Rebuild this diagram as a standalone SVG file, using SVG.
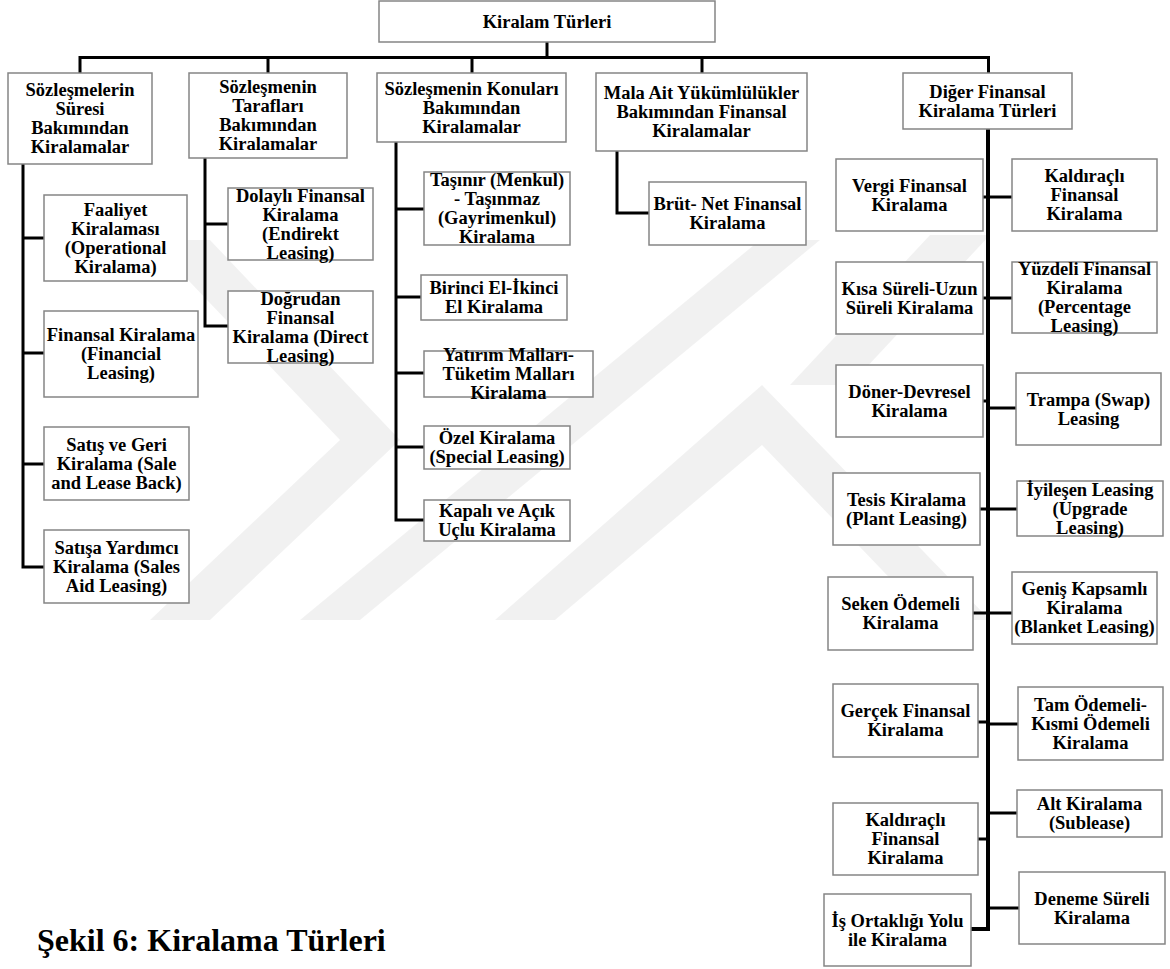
<svg xmlns="http://www.w3.org/2000/svg" width="1170" height="969" viewBox="0 0 1170 969">
  <style>
    .box { fill: #ffffff; stroke: #858585; stroke-width: 1.5; }
    .t { font-family: "Liberation Serif", "Times New Roman", serif; font-weight: bold; font-size: 18.5px; text-anchor: middle; fill: #000000; }
    .cap { font-family: "Liberation Serif", "Times New Roman", serif; font-weight: bold; font-size: 32px; fill: #000000; }
    .c { fill: none; stroke: #000000; stroke-width: 3; stroke-linejoin: miter; }
    .trunk { fill: none; stroke: #000000; stroke-width: 4; }
    .wm { fill: #000000; fill-opacity: 0.055; }
  </style>

  <rect width="1170" height="969" fill="#ffffff"/>

  <!-- faint background emblem -->
  <g id="emblem">
    <polygon class="wm" points="150,240 210,240 400,440 210,620 150,620 340,440"/>
    <polygon class="wm" points="300,620 360,620 820,240 760,240"/>
    <polygon class="wm" points="495,620 555,620 762,445 930,620 990,620 762,385"/>
    <polygon class="wm" points="790,385 850,385 990,235 930,235"/>
  </g>

  <!-- connectors -->
  <g id="connectors">
    <line class="c" x1="547" y1="42" x2="547" y2="57.5"/>
    <path class="c" d="M80,73 V57.5 H988.5 V73"/>
    <line class="c" x1="268" y1="57.5" x2="268" y2="73"/>
    <line class="c" x1="472" y1="57.5" x2="472" y2="73"/>
    <line class="c" x1="702" y1="57.5" x2="702" y2="73"/>

    <!-- Sözleşmelerin Süresi -->
    <path class="c" d="M23,164 V567 H44"/>
    <line class="c" x1="23" y1="238" x2="44" y2="238"/>
    <line class="c" x1="23" y1="353" x2="44" y2="353"/>
    <line class="c" x1="23" y1="464" x2="44" y2="464"/>

    <!-- Sözleşmenin Tarafları -->
    <path class="c" d="M205,158 V326 H228"/>
    <line class="c" x1="205" y1="224" x2="228" y2="224"/>

    <!-- Sözleşmenin Konuları -->
    <path class="c" d="M396,142 V520 H424"/>
    <line class="c" x1="396" y1="209" x2="424" y2="209"/>
    <line class="c" x1="396" y1="297" x2="421" y2="297"/>
    <line class="c" x1="396" y1="373" x2="424" y2="373"/>
    <line class="c" x1="396" y1="447" x2="424" y2="447"/>

    <!-- Mala Ait Yükümlülükler -->
    <path class="c" d="M617,151 V213 H649"/>

    <!-- Diğer Finansal Kiralama Türleri -->
    <path class="trunk" d="M988,129 V929 H971"/>
    <line class="c" x1="983" y1="197" x2="1012" y2="197"/>
    <line class="c" x1="983" y1="298" x2="1012" y2="298"/>
    <line class="c" x1="983" y1="401" x2="988" y2="401"/>
    <line class="c" x1="988" y1="408" x2="1016" y2="408"/>
    <line class="c" x1="980" y1="509" x2="1017" y2="509"/>
    <line class="c" x1="973" y1="613" x2="1012" y2="613"/>
    <line class="c" x1="978" y1="722" x2="988" y2="722"/>
    <line class="c" x1="988" y1="724" x2="1018" y2="724"/>
    <line class="c" x1="988" y1="813" x2="1017" y2="813"/>
    <line class="c" x1="978" y1="839" x2="988" y2="839"/>
    <line class="c" x1="988" y1="908" x2="1019" y2="908"/>
  </g>

  <!-- root -->
  <g id="root">
    <rect class="box" x="379" y="1" width="336" height="41"/>
    <text class="t" x="547" y="27.5">Kiralam Türleri</text>
  </g>

  <!-- first level -->
  <g id="sure">
    <rect class="box" x="8" y="73" width="144" height="91"/>
    <text class="t" x="80" y="96">Sözleşmelerin</text>
    <text class="t" x="80" y="115">Süresi</text>
    <text class="t" x="80" y="134">Bakımından</text>
    <text class="t" x="80" y="153">Kiralamalar</text>
  </g>
  <g id="taraflar">
    <rect class="box" x="189" y="73" width="158" height="85"/>
    <text class="t" x="268" y="93">Sözleşmenin</text>
    <text class="t" x="268" y="112">Tarafları</text>
    <text class="t" x="268" y="131">Bakımından</text>
    <text class="t" x="268" y="150">Kiralamalar</text>
  </g>
  <g id="konular">
    <rect class="box" x="377" y="73" width="189" height="69"/>
    <text class="t" x="471.5" y="94.5">Sözleşmenin Konuları</text>
    <text class="t" x="471.5" y="113.5">Bakımından</text>
    <text class="t" x="471.5" y="132.5">Kiralamalar</text>
  </g>
  <g id="yukumluluk">
    <rect class="box" x="596" y="73" width="211" height="78"/>
    <text class="t" x="701.5" y="99">Mala Ait Yükümlülükler</text>
    <text class="t" x="701.5" y="118">Bakımından Finansal</text>
    <text class="t" x="701.5" y="137">Kiralamalar</text>
  </g>
  <g id="diger">
    <rect class="box" x="903" y="73" width="169" height="56"/>
    <text class="t" x="987.5" y="97.5">Diğer Finansal</text>
    <text class="t" x="987.5" y="116.5">Kiralama Türleri</text>
  </g>

  <!-- Sözleşmelerin Süresi children -->
  <g id="faaliyet">
    <rect class="box" x="44" y="195" width="143" height="86"/>
    <text class="t" x="115.5" y="215.5">Faaliyet</text>
    <text class="t" x="115.5" y="234.5">Kiralaması</text>
    <text class="t" x="115.5" y="253.5">(Operational</text>
    <text class="t" x="115.5" y="272.5">Kiralama)</text>
  </g>
  <g id="finansal">
    <rect class="box" x="44" y="311" width="154" height="86"/>
    <text class="t" x="121" y="341">Finansal Kiralama</text>
    <text class="t" x="121" y="360">(Financial</text>
    <text class="t" x="121" y="379">Leasing)</text>
  </g>
  <g id="satis-geri">
    <rect class="box" x="44" y="427" width="145" height="73"/>
    <text class="t" x="116.5" y="450.5">Satış ve Geri</text>
    <text class="t" x="116.5" y="469.5">Kiralama (Sale</text>
    <text class="t" x="116.5" y="488.5">and Lease Back)</text>
  </g>
  <g id="satisa-yardimci">
    <rect class="box" x="44" y="530" width="145" height="73"/>
    <text class="t" x="116.5" y="553.5">Satışa Yardımcı</text>
    <text class="t" x="116.5" y="572.5">Kiralama (Sales</text>
    <text class="t" x="116.5" y="591.5">Aid Leasing)</text>
  </g>

  <!-- Sözleşmenin Tarafları children -->
  <g id="dolayli">
    <rect class="box" x="228" y="188" width="145" height="72"/>
    <text class="t" x="300.5" y="201.5">Dolaylı Finansal</text>
    <text class="t" x="300.5" y="220.5">Kiralama</text>
    <text class="t" x="300.5" y="239.5">(Endirekt</text>
    <text class="t" x="300.5" y="258.5">Leasing)</text>
  </g>
  <g id="dogrudan">
    <rect class="box" x="228" y="291" width="145" height="72"/>
    <text class="t" x="300.5" y="304.5">Doğrudan</text>
    <text class="t" x="300.5" y="323.5">Finansal</text>
    <text class="t" x="300.5" y="342.5">Kiralama (Direct</text>
    <text class="t" x="300.5" y="361.5">Leasing)</text>
  </g>

  <!-- Sözleşmenin Konuları children -->
  <g id="tasinir">
    <rect class="box" x="424" y="172" width="146" height="73"/>
    <text class="t" x="497" y="186">Taşınır (Menkul)</text>
    <text class="t" x="497" y="205">- Taşınmaz</text>
    <text class="t" x="497" y="224">(Gayrimenkul)</text>
    <text class="t" x="497" y="243">Kiralama</text>
  </g>
  <g id="birinci-el">
    <rect class="box" x="421" y="275" width="146" height="45"/>
    <text class="t" x="494" y="294">Birinci El-İkinci</text>
    <text class="t" x="494" y="313">El Kiralama</text>
  </g>
  <g id="yatirim">
    <rect class="box" x="424" y="351" width="169" height="46"/>
    <text class="t" x="508.5" y="361">Yatırım Malları-</text>
    <text class="t" x="508.5" y="380">Tüketim Malları</text>
    <text class="t" x="508.5" y="399">Kiralama</text>
  </g>
  <g id="ozel">
    <rect class="box" x="424" y="426" width="146" height="43"/>
    <text class="t" x="497" y="444">Özel Kiralama</text>
    <text class="t" x="497" y="463">(Special Leasing)</text>
  </g>
  <g id="kapali-acik">
    <rect class="box" x="424" y="500" width="146" height="41"/>
    <text class="t" x="497" y="517">Kapalı ve Açık</text>
    <text class="t" x="497" y="536">Uçlu Kiralama</text>
  </g>

  <!-- Mala Ait Yükümlülükler child -->
  <g id="brut-net">
    <rect class="box" x="649" y="182" width="157" height="63"/>
    <text class="t" x="727.5" y="210">Brüt- Net Finansal</text>
    <text class="t" x="727.5" y="229">Kiralama</text>
  </g>

  <!-- Diğer Finansal Kiralama Türleri children, left column -->
  <g id="vergi">
    <rect class="box" x="836" y="159" width="147" height="72"/>
    <text class="t" x="909.5" y="191.5">Vergi Finansal</text>
    <text class="t" x="909.5" y="210.5">Kiralama</text>
  </g>
  <g id="kisa-uzun">
    <rect class="box" x="836" y="262" width="147" height="72"/>
    <text class="t" x="909.5" y="294.5">Kısa Süreli-Uzun</text>
    <text class="t" x="909.5" y="313.5">Süreli Kiralama</text>
  </g>
  <g id="doner">
    <rect class="box" x="836" y="365" width="147" height="72"/>
    <text class="t" x="909.5" y="397.5">Döner-Devresel</text>
    <text class="t" x="909.5" y="416.5">Kiralama</text>
  </g>
  <g id="tesis">
    <rect class="box" x="833" y="473" width="147" height="72"/>
    <text class="t" x="906.5" y="505.5">Tesis Kiralama</text>
    <text class="t" x="906.5" y="524.5">(Plant Leasing)</text>
  </g>
  <g id="seken">
    <rect class="box" x="828" y="577" width="145" height="73"/>
    <text class="t" x="900.5" y="610">Seken Ödemeli</text>
    <text class="t" x="900.5" y="629">Kiralama</text>
  </g>
  <g id="gercek">
    <rect class="box" x="833" y="684" width="145" height="73"/>
    <text class="t" x="905.5" y="717">Gerçek Finansal</text>
    <text class="t" x="905.5" y="736">Kiralama</text>
  </g>
  <g id="kaldiracli-2">
    <rect class="box" x="833" y="803" width="145" height="72"/>
    <text class="t" x="905.5" y="826">Kaldıraçlı</text>
    <text class="t" x="905.5" y="845">Finansal</text>
    <text class="t" x="905.5" y="864">Kiralama</text>
  </g>
  <g id="is-ortakligi">
    <rect class="box" x="824" y="894" width="147" height="72"/>
    <text class="t" x="897.5" y="926.5">İş Ortaklığı Yolu</text>
    <text class="t" x="897.5" y="945.5">ile Kiralama</text>
  </g>

  <!-- Diğer Finansal Kiralama Türleri children, right column -->
  <g id="kaldiracli-1">
    <rect class="box" x="1012" y="159" width="145" height="72"/>
    <text class="t" x="1084.5" y="182">Kaldıraçlı</text>
    <text class="t" x="1084.5" y="201">Finansal</text>
    <text class="t" x="1084.5" y="220">Kiralama</text>
  </g>
  <g id="yuzdeli">
    <rect class="box" x="1012" y="262" width="145" height="71"/>
    <text class="t" x="1084.5" y="275">Yüzdeli Finansal</text>
    <text class="t" x="1084.5" y="294">Kiralama</text>
    <text class="t" x="1084.5" y="313">(Percentage</text>
    <text class="t" x="1084.5" y="332">Leasing)</text>
  </g>
  <g id="trampa">
    <rect class="box" x="1016" y="373" width="145" height="72"/>
    <text class="t" x="1088.5" y="405.5">Trampa (Swap)</text>
    <text class="t" x="1088.5" y="424.5">Leasing</text>
  </g>
  <g id="iyilesen">
    <rect class="box" x="1017" y="481" width="146" height="55"/>
    <text class="t" x="1090" y="495.5">İyileşen Leasing</text>
    <text class="t" x="1090" y="514.5">(Upgrade</text>
    <text class="t" x="1090" y="533.5">Leasing)</text>
  </g>
  <g id="genis">
    <rect class="box" x="1012" y="572" width="145" height="72"/>
    <text class="t" x="1084.5" y="595">Geniş Kapsamlı</text>
    <text class="t" x="1084.5" y="614">Kiralama</text>
    <text class="t" x="1084.5" y="633">(Blanket Leasing)</text>
  </g>
  <g id="tam-kismi">
    <rect class="box" x="1018" y="687" width="145" height="73"/>
    <text class="t" x="1090.5" y="710.5">Tam Ödemeli-</text>
    <text class="t" x="1090.5" y="729.5">Kısmi Ödemeli</text>
    <text class="t" x="1090.5" y="748.5">Kiralama</text>
  </g>
  <g id="alt">
    <rect class="box" x="1017" y="790" width="145" height="47"/>
    <text class="t" x="1089.5" y="810">Alt Kiralama</text>
    <text class="t" x="1089.5" y="829">(Sublease)</text>
  </g>
  <g id="deneme">
    <rect class="box" x="1019" y="872" width="146" height="72"/>
    <text class="t" x="1092" y="904.5">Deneme Süreli</text>
    <text class="t" x="1092" y="923.5">Kiralama</text>
  </g>

  <!-- caption -->
  <text class="cap" x="37" y="951">Şekil 6: Kiralama Türleri</text>
</svg>
